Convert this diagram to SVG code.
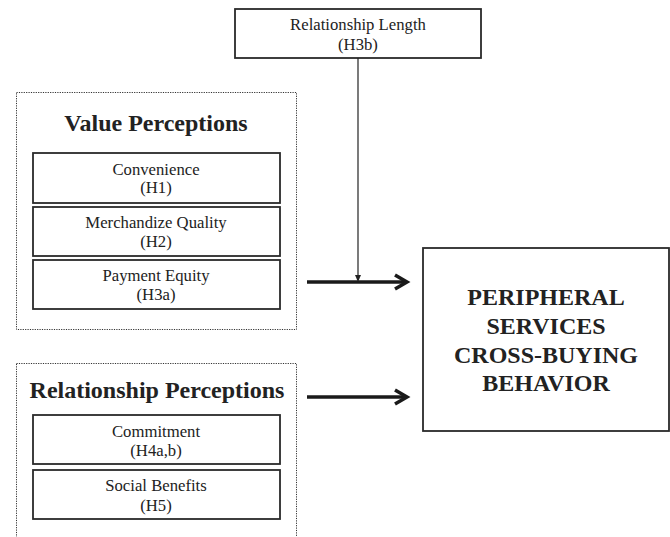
<svg xmlns="http://www.w3.org/2000/svg" width="670" height="537" viewBox="0 0 670 537">
<style>
text{fill:#222;text-anchor:middle}
.sub{font-size:16.7px}
.title{font-size:24px;font-weight:bold}
.big{font-size:24px;font-weight:bold}
.box{fill:#fff;stroke:#2a2a2a;stroke-width:1.8}
.dot{fill:none;stroke:#333;stroke-width:1;stroke-dasharray:1.2 1.2}
.thick{fill:none;stroke:#1a1a1a;stroke-width:3.5}
.thin{fill:none;stroke:#222;stroke-width:1.2}
</style>
<rect width="670" height="537" fill="#fff"/>
<g font-family="Liberation Serif, Times New Roman, serif">
<g id="relationship-length">
<rect class="box" x="235" y="9" width="246" height="49"/>
<text class="sub" x="358" y="30">Relationship Length</text>
<text class="sub" x="358" y="50">(H3b)</text>
</g>
<g id="value-perceptions">
<rect class="dot" x="16.5" y="92.5" width="280" height="237"/>
<text class="title" x="156" y="131">Value Perceptions</text>
</g>
<g id="convenience">
<rect class="box" x="33" y="153" width="247" height="50"/>
<text class="sub" x="156" y="175">Convenience</text>
<text class="sub" x="156" y="193">(H1)</text>
</g>
<g id="merchandize-quality">
<rect class="box" x="33" y="207" width="247" height="49"/>
<text class="sub" x="156" y="228">Merchandize Quality</text>
<text class="sub" x="156" y="247">(H2)</text>
</g>
<g id="payment-equity">
<rect class="box" x="33" y="260" width="247" height="49"/>
<text class="sub" x="156" y="281">Payment Equity</text>
<text class="sub" x="156" y="300">(H3a)</text>
</g>
<g id="relationship-perceptions">
<rect class="dot" x="16.5" y="363.5" width="280" height="190"/>
<text class="title" x="157" y="398">Relationship Perceptions</text>
</g>
<g id="commitment">
<rect class="box" x="33" y="415" width="247" height="49"/>
<text class="sub" x="156" y="437">Commitment</text>
<text class="sub" x="156" y="456">(H4a,b)</text>
</g>
<g id="social-benefits">
<rect class="box" x="33" y="470" width="247" height="49"/>
<text class="sub" x="156" y="491">Social Benefits</text>
<text class="sub" x="156" y="511">(H5)</text>
</g>
<g id="cross-buying">
<rect class="box" x="423" y="248" width="246" height="183"/>
<text class="big" x="546" y="305">PERIPHERAL</text>
<text class="big" x="546" y="334">SERVICES</text>
<text class="big" x="546" y="363">CROSS-BUYING</text>
<text class="big" x="546" y="391">BEHAVIOR</text>
</g>
</g>
<g id="connectors">
<line class="thin" x1="358" y1="58" x2="358" y2="277"/>
<polygon points="355,275 361,275 358,282" fill="#222"/>
<line class="thick" x1="307" y1="282" x2="406" y2="282"/>
<polyline class="thick" points="395,275 407,282 395,289"/>
<line class="thick" x1="307" y1="397" x2="406" y2="397"/>
<polyline class="thick" points="395,390 407,397 395,404"/>
</g>
</svg>
